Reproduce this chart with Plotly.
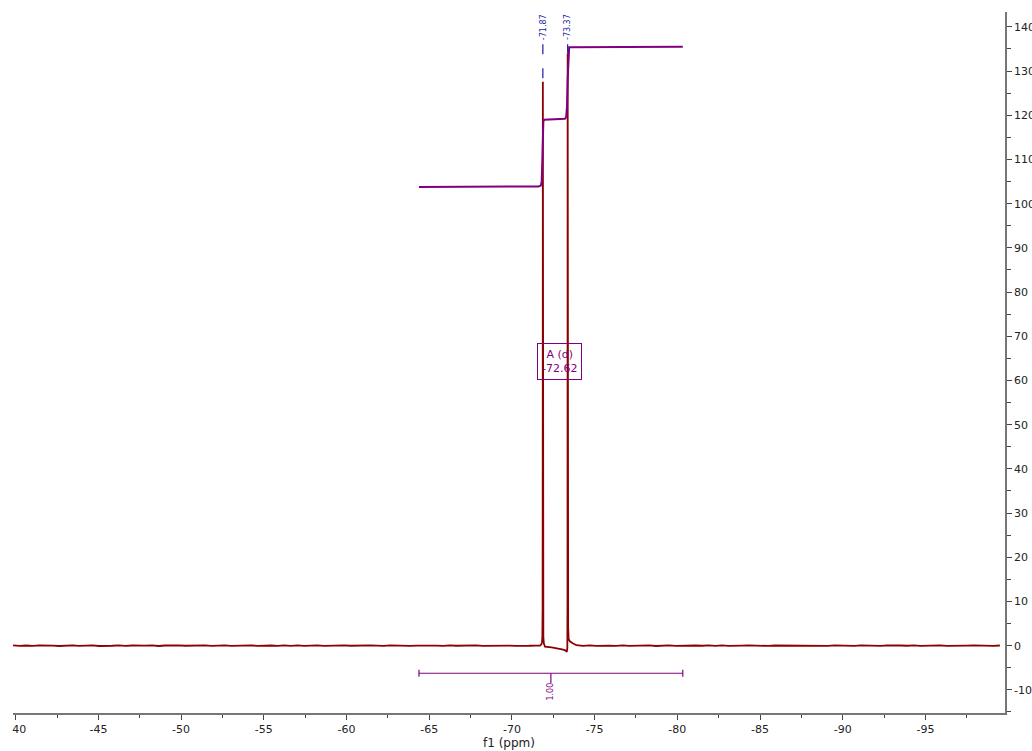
import numpy as np
import plotly.graph_objects as go

# ---------------- data ----------------
# baseline regions (ppm grid, hand-read small noise values)
left_ppm = np.arange(-39.84, -71.6, -0.4)
left_int = [0.05, -0.06, 0.04, -0.05, 0.07, -0.04, 0.02, -0.07, 0.05, 0.06,
            -0.05, 0.00, 0.06, -0.07, 0.04, -0.02, 0.07, -0.05, 0.04, -0.04,
            0.02, 0.07, -0.07, 0.04, -0.04, 0.05, -0.02, 0.04, -0.05, 0.07,
            -0.04, 0.02, 0.05, -0.05, 0.04, -0.02, 0.07, -0.04, 0.02, 0.04,
            -0.06, 0.05, -0.03, 0.06, -0.05, 0.02, 0.05, -0.06, 0.03, -0.04,
            0.06, -0.02, 0.04, -0.06, 0.05, 0.01, -0.05, 0.06, -0.03, 0.04,
            -0.05, 0.03, 0.06, -0.04, 0.02, -0.06, 0.05, -0.02, 0.04, -0.05,
            0.06, -0.03, 0.02, -0.05, 0.04, 0.03, -0.04, 0.05, -0.02, 0.03]
left_int = left_int[:len(left_ppm)]

peak_ppm = [-71.70, -71.78, -71.82, -71.84, -71.855, -71.865, -71.87, -71.875,
            -71.885, -71.90, -71.93, -72.00, -72.40, -72.80, -73.10, -73.25,
            -73.32, -73.35, -73.36, -73.365, -73.37, -73.375, -73.385, -73.40,
            -73.43, -73.50, -73.70, -73.90]
peak_int = [0.0, 0.3, 0.8, 2.0, 8.0, 60.0, 127.6, 60.0,
            8.0, 2.0, 0.5, -0.2, -0.4, -0.6, -0.9, -1.1,
            -1.4, -0.5, 10.0, 70.0, 134.0, 70.0, 12.0, 4.0,
            1.5, 1.0, 0.5, 0.1]

right_ppm = np.arange(-74.3, -99.85, -0.4)
right_int = [-0.04, 0.05, -0.06, 0.04, 0.02, -0.05, 0.07, -0.04, 0.04, -0.02,
             0.05, -0.07, 0.04, 0.06, -0.04, 0.02, -0.05, 0.04, -0.02, 0.07,
             -0.04, 0.05, -0.06, 0.04, 0.00, 0.05, -0.04, 0.02, -0.05, 0.04,
             0.02, -0.04, 0.04, -0.05, 0.06, -0.03, 0.02, -0.06, 0.05, -0.02,
             0.04, -0.05, 0.06, -0.02, 0.03, -0.06, 0.05, -0.03, 0.04, -0.02,
             0.06, -0.05, 0.02, -0.04, 0.05, -0.03, 0.04, -0.06, 0.03, 0.05,
             -0.04, 0.02, -0.05, 0.04, 0.01]
right_int = right_int[:len(right_ppm)]

spec_ppm = list(left_ppm) + peak_ppm + list(right_ppm)
spec_int = list(left_int) + peak_int + list(right_int)

# integral curve
integral_ppm = [-64.38, -71.60, -71.75, -71.80, -71.84, -71.87, -71.90, -71.95,
                -73.20, -73.28, -73.33, -73.37, -73.41, -73.46, -80.33]
integral_val = [103.8, 103.9, 104.1, 105.0, 110.0, 115.0, 118.6, 119.0,
                119.2, 119.6, 122.0, 128.0, 134.5, 135.4, 135.5]

integral_limits = [-64.38, -80.33]
integral_label = "1.00"

peak_positions = [-71.87, -73.37]
peak_tops = [127.6, 134.0]
peak_labels = ["-71.87", "-73.37"]

multiplet_text = "A (d)<br>-72.62"

x_tickvals = [-40, -45, -50, -55, -60, -65, -70, -75, -80, -85, -90, -95]
x_ticktext = ["\u00a0\u00a040", "-45", "-50", "-55", "-60", "-65", "-70", "-75",
              "-80", "-85", "-90", "-95"]
y_tickvals = [-10, 0, 10, 20, 30, 40, 50, 60, 70, 80, 90, 100, 110, 120, 130, 140]
y_ticktext = ["-10", "0", "10", "20", "30", "40", "50", "60", "70", "80", "90",
              "100", "110", "120", "130", "140"]

# ---------------- styles ----------------
SPEC_COLOR = "#8b0000"
INT_COLOR = "#800080"
PEAK_COLOR = "#1c1ca0"
FONT = "DejaVu Sans"

fig = go.Figure()
fig.add_trace(go.Scatter(x=spec_ppm, y=spec_int, mode="lines",
                         line=dict(color=SPEC_COLOR, width=1.8),
                         hoverinfo="skip", showlegend=False))
fig.add_trace(go.Scatter(x=integral_ppm, y=integral_val, mode="lines",
                         line=dict(color=INT_COLOR, width=2),
                         hoverinfo="skip", showlegend=False))

# integration bar
bar_y = -6.24
lo, hi = integral_limits
mid = (lo + hi) / 2
fig.add_shape(type="line", x0=lo, x1=hi, y0=bar_y, y1=bar_y,
              line=dict(color=INT_COLOR, width=1.2))
for xv in integral_limits:
    fig.add_shape(type="line", x0=xv, x1=xv, y0=bar_y - 0.8, y1=bar_y + 0.8,
                  line=dict(color=INT_COLOR, width=1.2))
fig.add_shape(type="line", x0=mid, x1=mid, y0=bar_y, y1=bar_y - 2.2,
              line=dict(color=INT_COLOR, width=1.2))
fig.add_annotation(x=mid, y=-10.4, text=integral_label, textangle=-90,
                   showarrow=False, xanchor="center", yanchor="middle",
                   font=dict(family=FONT, size=8, color=INT_COLOR))

# peak labels with dashed leader lines
for px, top, lab in zip(peak_positions, peak_tops, peak_labels):
    fig.add_shape(type="line", x0=px, x1=px, y0=136.1, y1=min(top, 135.6),
                  line=dict(color=PEAK_COLOR, width=1.2, dash="10px,14px"))
    fig.add_annotation(x=px, y=139.9, text=lab, textangle=-90, showarrow=False,
                       xanchor="center", yanchor="middle",
                       font=dict(family=FONT, size=8, color=PEAK_COLOR))

# multiplet box
fig.add_annotation(x=-72.9, y=64.25, text=multiplet_text, showarrow=False,
                   xanchor="center", yanchor="middle", align="center",
                   bordercolor=INT_COLOR, borderwidth=1, borderpad=4,
                   bgcolor="rgba(0,0,0,0)",
                   font=dict(family=FONT, size=11, color=INT_COLOR))

fig.update_layout(
    width=1032, height=751,
    margin=dict(l=13, r=27, t=12, b=38, autoexpand=False),
    paper_bgcolor="white", plot_bgcolor="white",
    font=dict(family=FONT, size=11, color="#222"),
    xaxis=dict(range=[-39.837, -99.81], showgrid=False, zeroline=False,
               automargin=False,
               showline=True, linecolor="#777", linewidth=1.5,
               ticks="outside", ticklen=5, tickcolor="#444", tickwidth=1,
               tickmode="array", tickvals=x_tickvals, ticktext=x_ticktext,
               tickfont=dict(family=FONT, size=11, color="#222"),
               minor=dict(ticks="outside", ticklen=3, tickcolor="#444",
                          dtick=2.5, tick0=0, showgrid=False),
               title=dict(text="f1 (ppm)", standoff=4,
                          font=dict(family=FONT, size=12, color="#222"))),
    yaxis=dict(range=[-15.23, 143.37], side="right", showgrid=False,
               zeroline=False, showline=True, linecolor="#777", linewidth=1.5,
               automargin=False,
               ticks="outside", ticklen=5, tickcolor="#444", tickwidth=1,
               tickmode="array", tickvals=y_tickvals, ticktext=y_ticktext,
               tickfont=dict(family=FONT, size=11, color="#222"),
               minor=dict(ticks="outside", ticklen=4, tickcolor="#444",
                          dtick=5, tick0=0, showgrid=False)),
)

fig.write_html("out.html",
               config={"displayModeBar": False},
               post_script="document.body.style.margin='0';"
                           "document.body.style.overflow='hidden';")
